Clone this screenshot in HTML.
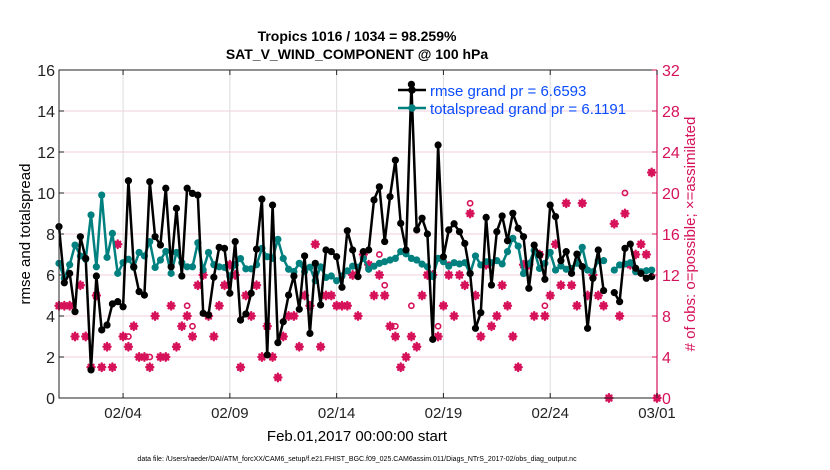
<!DOCTYPE html>
<html><head><meta charset="utf-8"><style>
html,body{margin:0;padding:0;background:#fff;}
svg{display:block;font-family:"Liberation Sans",Arial,sans-serif;}
</style></head><body>
<svg id="chart" width="830" height="470" viewBox="0 0 830 470" xmlns="http://www.w3.org/2000/svg">
<text x="357" y="41" text-anchor="middle" font-size="14" font-weight="bold">Tropics 1016 / 1034 = 98.259%</text>
<text x="357" y="59" text-anchor="middle" font-size="14" font-weight="bold">SAT_V_WIND_COMPONENT @ 100 hPa</text>
<g id="grid"></g>
<g id="obs"></g>
<g id="lines"></g>
<g id="axes"></g>
<text transform="translate(30,234) rotate(-90)" text-anchor="middle" font-size="15">rmse and totalspread</text>
<text transform="translate(695,234) rotate(-90)" text-anchor="middle" font-size="15" fill="#d6125a"># of obs: o=possible; ×=assimilated</text>
<text x="357" y="441" text-anchor="middle" font-size="15">Feb.01,2017 00:00:00 start</text>
<text x="357" y="461" text-anchor="middle" font-size="7">data file: /Users/raeder/DAI/ATM_forcXX/CAM6_setup/f.e21.FHIST_BGC.f09_025.CAM6assim.011/Diags_NTrS_2017-02/obs_diag_output.nc</text>
<g>
  <line x1="398" y1="90" x2="426" y2="90" stroke="#000" stroke-width="2.5"/>
  <circle cx="412" cy="90" r="3.8" fill="#000"/>
  <text x="430" y="96" font-size="15" fill="#0a4cff">rmse grand pr = 6.6593</text>
  <line x1="398" y1="108" x2="426" y2="108" stroke="#00807f" stroke-width="2.5"/>
  <circle cx="412" cy="108" r="3.8" fill="#00807f"/>
  <text x="430" y="114" font-size="15" fill="#0a4cff">totalspread grand pr = 6.1191</text>
</g>
</svg>
<script>
const rmse = [8.36,5.62,6.08,4.21,7.87,6.81,1.37,5.95,3.32,3.56,4.59,4.70,4.45,10.6,6.4,5.19,5.02,10.55,7.87,7.46,10.23,6.4,9.25,5.95,10.23,9.98,9.9,4.13,4.05,5.89,7.35,7.3,5.11,7.63,3.8,4.1,5.11,7.26,9.7,
2.1,9.41,2.7,3.72,5.02,5.95,4.33,6.93,3.15,6.57,4.54,7.22,7.14,6.89,5.4,8.16,7.22,5.92,7.14,7.22,9.66,10.3,7.63,9.82,11.6,8.52,7.22,15.3,8.2,8.77,8.0,2.86,12.34,6.89,8.2,8.5,
8.11,7.54,6.08,3.4,4.16,8.81,5.51,8.11,8.88,7.67,9.01,8.28,7.87,5.35,7.46,6.98,5.79,9.41,8.85,6.7,7.14,6.08,7.02,6.41,3.4,5.84,7.22,5.24,null,5.14,4.7,7.3,7.51,6.33,6.08,5.84,5.92,null];
const spread = [6.57,5.84,6.5,7.46,6.93,6.77,8.93,6.4,9.9,6.86,8.03,6.08,6.6,6.77,6.37,7.1,6.93,7.63,6.37,6.73,7.15,6.08,7.1,6.6,6.4,6.4,7.57,6.25,7.1,6.5,6.4,6.37,5.95,6.5,6.8,6.3,6.3,6.5,7.3,
6.89,6.81,7.74,6.81,6.28,6.17,6.57,6.17,6.38,5.72,6.4,5.88,5.95,5.72,5.95,6.2,6.43,6.38,6.81,6.28,6.43,6.57,6.65,6.73,6.81,7.14,7.03,6.81,6.73,6.53,6.4,5.92,6.81,6.65,6.43,6.6,
6.54,6.6,6.07,6.93,6.49,6.65,6.6,6.7,6.54,7.14,7.79,7.41,6.07,6.54,7.2,6.32,6.57,7.1,6.24,6.44,6.28,6.32,6.57,7.35,6.24,6.16,6.7,6.7,null,6.24,6.49,6.54,6.6,6.16,6.16,6.21,6.24,null];
const nAssim = [9,9,9,6,11,6,3,10,3,5,3,15,6,5,7,4,4,3,8,4,4,9,5,7,8,6,11,12,8,6,9,11,13,12,3,10,8,11,
4,7,4,2,6,8,8,5,10,9,15,5,10,10,9,9,9,12,8,14,13,10,12,10,7,6,3,4,6,5,10,12,12,6,9,12,
8,12,11,18,10,6,13,7,8,11,9,6,3,13,13,8,14,8,10,15,11,19,11,9,19,10,12,10,9,0,17,8,18,13,14,15,14,22,0];
const nPossible = nAssim.slice();
const possibleExtra = [[13,6],[17,4],[24,9],[25,7],[33,13],[60,14],[61,11],[63,7],[66,9],[71,7],[73,13],[77,19],[91,9],[106,20]];
possibleExtra.forEach(function(p){ nPossible[p[0]] = p[1]; });
const leftTicks = [0,2,4,6,8,10,12,14,16];
const rightTicks = [0,4,8,12,16,20,24,28,32];
const dateTicks = [3,8,13,18,23,28];
const dateLabels = ["02/04","02/09","02/14","02/19","02/24","03/01"];

const NS = "http://www.w3.org/2000/svg";
const X0 = 59, X1 = 657, Y0 = 398, Y1 = 70;
const PINK = "#d6125a", TEAL = "#00807f";
function xDay(d){ return X0 + d/28*(X1-X0); }
function xIdx(i){ return xDay(i*0.25); }
function yL(v){ return Y0 - v/16*(Y0-Y1); }
function yR(v){ return Y0 - v/32*(Y0-Y1); }
function mk(tag, attrs, parent){
  const e = document.createElementNS(NS, tag);
  for (const k in attrs) e.setAttribute(k, attrs[k]);
  parent.appendChild(e); return e;
}
const grid = document.getElementById('grid');
const axes = document.getElementById('axes');
const obs = document.getElementById('obs');
const lines = document.getElementById('lines');

leftTicks.forEach(function(t){
  if (t===0 || t===16) return;
  const l = mk('line', {x1:X0, x2:X1, y1:yL(t), y2:yL(t), stroke:'#f2cfdc', 'stroke-width':1}, grid);
  
  
});
dateTicks.forEach(function(d){
  const l = mk('line', {x1:xDay(d), x2:xDay(d), y1:Y0, y2:Y1, stroke:'#dcdcdc', 'stroke-width':1}, grid);
  
  
});

nPossible.forEach(function(v, i){
  if (v === nAssim[i]) return;
  const c = mk('circle', {cx:xIdx(i), cy:yR(v), r:2.6, fill:'none', stroke:PINK, 'stroke-width':1.6}, obs);
  
  
});
nAssim.forEach(function(v, i){
  const x = xIdx(i), y = yR(v);
  const g = mk('g', {stroke:PINK, 'stroke-width':2.4, 'stroke-linecap':'round'}, obs);
  
  
  mk('circle', {cx:x, cy:y, r:2.8, fill:PINK, stroke:'none'}, g);
  mk('line', {x1:x-3.5, x2:x+3.5, y1:y, y2:y}, g);
  mk('line', {x1:x, x2:x, y1:y-3.8, y2:y+3.8}, g);
  mk('line', {x1:x-2.5, x2:x+2.5, y1:y-2.5, y2:y+2.5}, g);
  mk('line', {x1:x-2.5, x2:x+2.5, y1:y+2.5, y2:y-2.5}, g);
});

function drawSeries(arr, color, name){
  let d = '', pen = false;
  arr.forEach(function(v, i){
    if (v === null){ pen = false; return; }
    d += (pen ? 'L' : 'M') + xIdx(i).toFixed(1) + ',' + yL(v).toFixed(1);
    pen = true;
  });
  const p = mk('path', {d:d, fill:'none', stroke:color, 'stroke-width':2.5, 'stroke-linejoin':'round'}, lines);
  
  
  arr.forEach(function(v, i){
    if (v === null) return;
    const c = mk('circle', {cx:xIdx(i), cy:yL(v), r:3.6, fill:color}, lines);
    
    
  });
}
drawSeries(spread, TEAL, 'totalspread');
drawSeries(rmse, '#000', 'rmse');

mk('path', {d:'M'+X1+','+Y1+'H'+X0+'V'+Y0+'H'+X1, fill:'none', stroke:'#222', 'stroke-width':1}, axes);
mk('line', {x1:X1, x2:X1, y1:Y1, y2:Y0, stroke:PINK, 'stroke-width':1.2}, axes);
leftTicks.forEach(function(t){
  mk('line', {x1:X0, x2:X0+5, y1:yL(t), y2:yL(t), stroke:'#222'}, axes);
  const tx = mk('text', {x:X0-4, y:yL(t)+6, 'text-anchor':'end', 'font-size':16, fill:'#222'}, axes);
  tx.textContent = t;
  
  
});
rightTicks.forEach(function(t){
  mk('line', {x1:X1-5, x2:X1, y1:yR(t), y2:yR(t), stroke:PINK}, axes);
  const tx = mk('text', {x:X1+5, y:yR(t)+6, 'text-anchor':'start', 'font-size':16, fill:PINK}, axes);
  tx.textContent = t;
  
  
});
dateTicks.forEach(function(d, k){
  mk('line', {x1:xDay(d), x2:xDay(d), y1:Y0, y2:Y0-5, stroke:'#222'}, axes);
  mk('line', {x1:xDay(d), x2:xDay(d), y1:Y1, y2:Y1+5, stroke:'#222'}, axes);
  const tx = mk('text', {x:xDay(d), y:Y0+20, 'text-anchor':'middle', 'font-size':15, fill:'#222'}, axes);
  tx.textContent = dateLabels[k];
  
  
});
</script>
</body></html>
